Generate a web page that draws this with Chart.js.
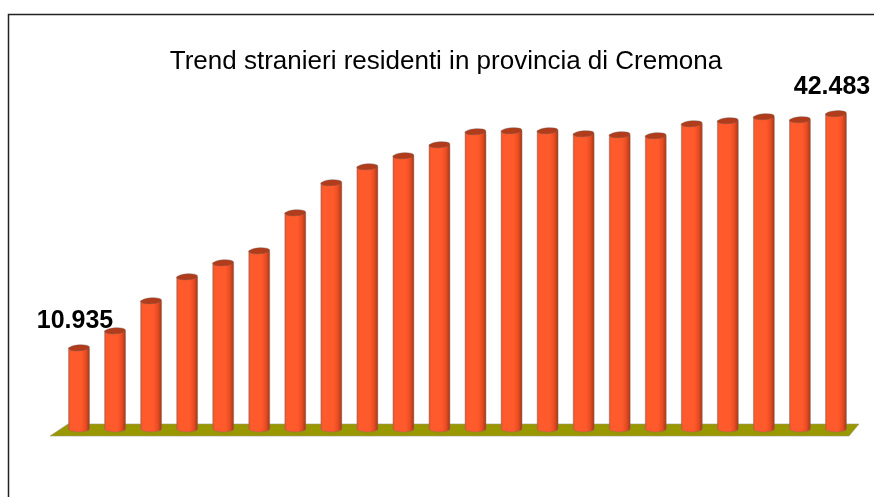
<!DOCTYPE html>
<html>
<head>
<meta charset="utf-8">
<title>Trend stranieri residenti in provincia di Cremona</title>
<script src="https://cdn.jsdelivr.net/npm/chart.js@4.4.1/dist/chart.umd.min.js"></script>
<style>
    html, body { margin: 0; padding: 0; background: #fff; }
    #wrap { width: 874px; height: 497px; position: relative; }
</style>
</head>
<body>
<div id="wrap"><canvas id="trendChart"></canvas></div>
<script>
// Trend stranieri residenti - Cremona
const years = ['2003', '2004', '2005', '2006', '2007', '2008', '2009', '2010', '2011', '2012', '2013',
    '2014', '2015', '2016', '2017', '2018', '2019', '2020', '2021', '2022', '2023', '2024'];
const residents = [10935, 13224, 17268, 20503, 22390, 24008, 29130, 33174, 35331, 36814, 38297,
    40049, 40184, 40184, 39779, 39645, 39510, 41127, 41532, 42071, 41667, 42483];
const titleText = 'Trend stranieri residenti in provincia di Cremona';

function formatNumber(v) {
    return String(v).replace(/\B(?=(\d{3})+(?!\d))/g, '.');
}

// frame, title and the olive floor
const backdropPlugin = {
    id: 'backdrop',
    beforeDatasetsDraw(chart) {
        const ctx = chart.ctx;
        const area = chart.chartArea;
        const base = chart.scales.y.getPixelForValue(0);
        ctx.save();
        ctx.beginPath();
        ctx.moveTo(area.left + 7, base - 5);
        ctx.lineTo(area.right + 5, base - 5);
        ctx.lineTo(area.right - 5, base + 7);
        ctx.lineTo(area.left - 11, base + 7);
        ctx.closePath();
        ctx.fillStyle = '#9a9800';
        ctx.fill();
        ctx.strokeStyle = 'rgba(150,150,120,0.7)';
        ctx.lineWidth = 0.8;
        ctx.stroke();
        ctx.restore();
    },
    afterDraw(chart) {
        const ctx = chart.ctx;
        ctx.save();
        ctx.strokeStyle = '#222';
        ctx.lineWidth = 1.5;
        ctx.beginPath();
        ctx.moveTo(8.5, chart.height);
        ctx.lineTo(8.5, 14.5);
        ctx.lineTo(chart.width, 14.5);
        ctx.stroke();

        ctx.fillStyle = '#000';
        ctx.font = '26px "Liberation Sans", Arial, sans-serif';
        ctx.textAlign = 'center';
        ctx.textBaseline = 'middle';
        ctx.fillText(titleText, 446, 62);
        ctx.restore();
    }
};

// cylinders on top of the (invisible) bars + first/last labels
const cylinderPlugin = {
    id: 'cylinders',
    afterDatasetsDraw(chart) {
        const ctx = chart.ctx;
        const meta = chart.getDatasetMeta(0);
        ctx.save();
        meta.data.forEach((bar, i) => {
            const x = bar.x, top = bar.y, base = bar.base;
            const rx = bar.width / 2, ry = 3;

            const grad = ctx.createLinearGradient(x - rx, 0, x + rx, 0);
            grad.addColorStop(0, '#e0542e');
            grad.addColorStop(0.1, '#ff5a2c');
            grad.addColorStop(0.6, '#ff5a2c');
            grad.addColorStop(0.82, '#e84c22');
            grad.addColorStop(1, '#a63818');

            ctx.beginPath();
            ctx.moveTo(x - rx, top);
            ctx.lineTo(x - rx, base);
            ctx.ellipse(x, base, rx, ry, 0, Math.PI, 0, true);
            ctx.lineTo(x + rx, top);
            ctx.closePath();
            ctx.fillStyle = grad;
            ctx.fill();
            ctx.strokeStyle = 'rgba(130,110,100,0.55)';
            ctx.lineWidth = 0.8;
            ctx.stroke();

            ctx.beginPath();
            ctx.ellipse(x, top, rx, ry, -0.07, 0, Math.PI * 2);
            ctx.fillStyle = '#b03c1c';
            ctx.fill();
            ctx.strokeStyle = 'rgba(120,90,80,0.5)';
            ctx.stroke();

            if (i === 0 || i === meta.data.length - 1) {
                ctx.fillStyle = '#000';
                ctx.font = 'bold 25px "Liberation Sans", Arial, sans-serif';
                ctx.textAlign = 'center';
                ctx.textBaseline = 'middle';
                ctx.fillText(formatNumber(residents[i]), x - 4, top - 27);
            }
        });
        ctx.restore();
    }
};

new Chart(document.getElementById('trendChart'), {
    type: 'bar',
    data: {
        labels: years,
        datasets: [{
            label: 'Stranieri residenti',
            data: residents,
            backgroundColor: 'rgba(0,0,0,0)',
            barPercentage: 0.58,
            categoryPercentage: 1
        }]
    },
    options: {
        responsive: true,
        maintainAspectRatio: false,
        animation: false,
        layout: { padding: { left: 61, right: 20, top: 95, bottom: 68 } },
        plugins: {
            legend: { display: false },
            title: { display: false },
            tooltip: { enabled: false }
        },
        scales: {
            x: { display: false },
            y: { display: false, min: 0, max: 45000 }
        }
    },
    plugins: [backdropPlugin, cylinderPlugin]
});
</script>
</body>
</html>
